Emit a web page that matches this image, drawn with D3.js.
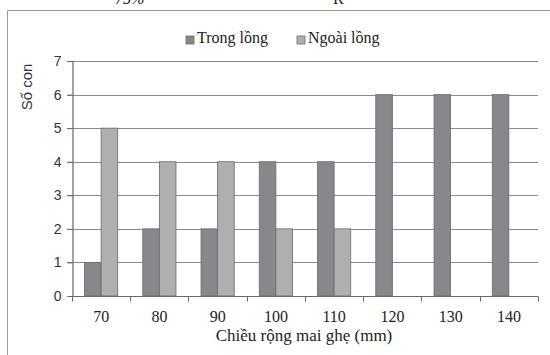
<!DOCTYPE html>
<html>
<head>
<meta charset="utf-8">
<script src="https://cdn.jsdelivr.net/npm/d3@7"></script>
<style>
  html, body { margin: 0; padding: 0; background: #fff; }
  svg { display: block; }
</style>
</head>
<body>
<svg id="chart" width="550" height="355"></svg>
<script>
const categories = ["70", "80", "90", "100", "110", "120", "130", "140"];
const seriesNames = ["Trong lồng", "Ngoài lồng"];
const trongLong = [1, 2, 2, 4, 4, 6, 6, 6];
const ngoaiLong = [5, 4, 4, 2, 2, 0, 0, 0];
const yTicks = [0, 1, 2, 3, 4, 5, 6, 7];
const colors = ["#88888c", "#afafb1"];

const svg = d3.select("#chart");
const serif = "'Liberation Serif', 'Times New Roman', serif";
const sans = "'Liberation Sans', Arial, sans-serif";

// Page fragments at the top (cut-off text from the surrounding page)
svg.append("text").attr("x", 115).attr("y", 4).attr("font-family", serif)
  .attr("font-size", 16).attr("font-style", "italic").attr("fill", "#222").text("75%");
svg.append("text").attr("x", 333).attr("y", 4).attr("font-family", serif)
  .attr("font-size", 16).attr("fill", "#222").text("R");

// Frame (top and left borders)
svg.append("path").attr("d", "M7.5,355 L7.5,10.5 L550,10.5")
  .attr("fill", "none").attr("stroke", "#9a9a9a").attr("stroke-width", 1);

const x0 = 72, x1 = 538, yTop = 61, yBot = 296;
const x = d3.scaleBand().domain(categories).range([x0, x1]).paddingInner(0.43).paddingOuter(0.215);
const xs = d3.scaleBand().domain(seriesNames).range([0, x.bandwidth()]);
const y = d3.scaleLinear().domain([0, 7]).range([yBot, yTop]);

// Gridlines
svg.append("g").selectAll("line").data(yTicks.filter(d => d > 0)).join("line")
  .attr("x1", x0 - 5).attr("x2", x1)
  .attr("y1", d => Math.round(y(d)) + 0.5).attr("y2", d => Math.round(y(d)) + 0.5)
  .attr("stroke", "#8c8c8c").attr("stroke-width", 1.2);

// Bars
const data = categories.map((c, i) => ({ c, vals: [trongLong[i], ngoaiLong[i]] }));
const groups = svg.append("g").selectAll("g").data(data).join("g")
  .attr("transform", d => `translate(${x(d.c)},0)`);
groups.selectAll("rect").data(d => d.vals.map((v, j) => ({ v, s: seriesNames[j], j })).filter(e => e.v > 0))
  .join("rect")
  .attr("x", e => xs(e.s))
  .attr("width", xs.bandwidth())
  .attr("y", e => y(e.v))
  .attr("height", e => y(0) - y(e.v))
  .attr("fill", e => colors[e.j])
  .attr("stroke", "#6a6a6c").attr("stroke-width", 0.8);

// Y axis
const yAxis = d3.axisLeft(y).tickValues(yTicks).tickSize(5).tickPadding(6).tickFormat(d3.format("d"));
const gy = svg.append("g").attr("transform", `translate(${x0 + 0.5},0)`).call(yAxis);
gy.select(".domain").attr("stroke", "#666").attr("stroke-width", 1.2);
gy.selectAll(".tick line").attr("stroke", "#666");
gy.selectAll("text").attr("font-family", sans).attr("font-size", 14).attr("fill", "#333");

// X axis
const xAxis = d3.axisBottom(x).tickSize(0).tickPadding(0);
const gx = svg.append("g").attr("transform", `translate(0,${yBot + 0.5})`).call(xAxis);
gx.select(".domain").attr("stroke", "#666").attr("stroke-width", 1.2).attr("d", `M${x0},0H${x1}`);
gx.selectAll("text").attr("font-family", serif).attr("font-size", 16).attr("fill", "#222")
  .attr("dy", null).attr("y", 25);
// Category boundary ticks
const bounds = categories.map(c => x(c) - x.step() * x.paddingInner() / 2).concat([x1]);
gx.append("g").selectAll("line").data(bounds).join("line")
  .attr("x1", d => Math.round(d) + 0.5).attr("x2", d => Math.round(d) + 0.5)
  .attr("y1", 0).attr("y2", 5).attr("stroke", "#666");

// Axis titles
svg.append("text").attr("transform", "translate(32,87) rotate(-90)")
  .attr("text-anchor", "middle").attr("font-family", sans).attr("font-size", 15)
  .attr("fill", "#333").text("Số con");
svg.append("text").attr("x", 304).attr("y", 341).attr("text-anchor", "middle")
  .attr("font-family", serif).attr("font-size", 17).attr("fill", "#222")
  .text("Chiều rộng mai ghẹ (mm)");

// Legend
const legendX = [186, 297];
const lg = svg.append("g").selectAll("g").data(seriesNames).join("g")
  .attr("transform", (d, i) => `translate(${legendX[i]},0)`);
lg.append("rect").attr("x", 0).attr("y", 36).attr("width", 8).attr("height", 8)
  .attr("fill", (d, i) => colors[i]).attr("stroke", "#6a6a6c").attr("stroke-width", 0.8);
lg.append("text").attr("x", 11).attr("y", 43).attr("font-family", serif)
  .attr("font-size", 16).attr("fill", "#222").text(d => d);
</script>
</body>
</html>
